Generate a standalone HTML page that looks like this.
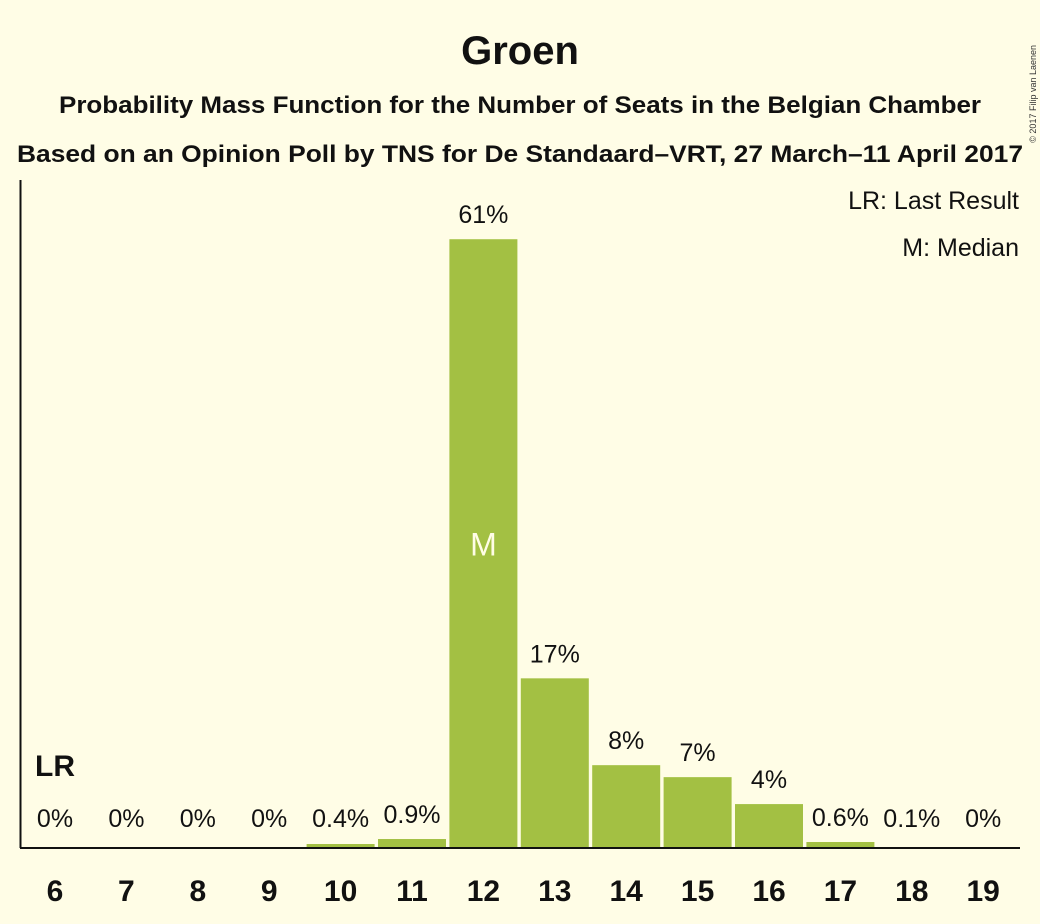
<!DOCTYPE html>
<html><head><meta charset="utf-8"><style>
html,body{margin:0;padding:0;background:#fffde6;}
svg{display:block;font-family:"Liberation Sans",sans-serif;}
</style></head><body>
<svg id="chart" width="1040" height="924" viewBox="0 0 1040 924">
<rect x="0" y="0" width="1040" height="924" fill="#fffde6"/>
<text x="520" y="64" text-anchor="middle" font-size="40" font-weight="bold" fill="#111">Groen</text>
<text x="520" y="113" text-anchor="middle" font-size="24" font-weight="bold" fill="#111" textLength="922" lengthAdjust="spacingAndGlyphs">Probability Mass Function for the Number of Seats in the Belgian Chamber</text>
<text x="520" y="162" text-anchor="middle" font-size="24" font-weight="bold" fill="#111" textLength="1006" lengthAdjust="spacingAndGlyphs">Based on an Opinion Poll by TNS for De Standaard–VRT, 27 March–11 April 2017</text>
<text x="1019" y="209" text-anchor="end" font-size="25" fill="#111">LR: Last Result</text>
<text x="1019" y="256" text-anchor="end" font-size="25" fill="#111">M: Median</text>
<text transform="translate(1036,45) rotate(-90)" text-anchor="end" font-size="9" fill="#333">© 2017 Filip van Laenen</text>
<g id="bars"></g>
<line x1="20.5" y1="180" x2="20.5" y2="848" stroke="#111" stroke-width="2"/>
<line x1="20" y1="848" x2="1020" y2="848" stroke="#111" stroke-width="2"/>
</svg>
<script>
const seats = [6,7,8,9,10,11,12,13,14,15,16,17,18,19];
const probs = [0,0,0,0,0.4,0.9,61,17,8.3,7.1,4.4,0.6,0.1,0];
const valueLabels = ["0%","0%","0%","0%","0.4%","0.9%","61%","17%","8%","7%","4%","0.6%","0.1%","0%"];
const lastResult = 6;
const median = 12;
const NS="http://www.w3.org/2000/svg";
const base=848, pxPerPct=9.98, x0=55, step=71.4, bw=68;
const xs=i=>x0+i*step;
const ys=v=>base-v*pxPerPct;
const g=document.getElementById('bars');
function mk(tag,attrs,txt){const e=document.createElementNS(NS,tag);for(const k in attrs)e.setAttribute(k,attrs[k]);if(txt!==undefined)e.textContent=txt;g.appendChild(e);return e;}
seats.forEach((s,i)=>{
  const cx=xs(i), top=ys(probs[i]);
  if(probs[i]>0){
    const r=mk('rect',{x:cx-bw/2,y:top,width:bw,height:base-top,fill:'#a3c043'});
    
    
  }
  const ly=Math.min(top,base-5)-16;
  const t=mk('text',{x:cx,y:ly,'text-anchor':'middle','font-size':25,fill:'#111'},valueLabels[i]);
  
  
  const xt=mk('text',{x:cx,y:901,'text-anchor':'middle','font-size':30,'font-weight':'bold',fill:'#111'},String(s));
  
  
  if(s===median){
    const m=mk('text',{x:cx,y:ys(probs[i]/2)+12,'text-anchor':'middle','font-size':32,fill:'#fffde6'},'M');
    
    
  }
  if(s===lastResult){
    const l=mk('text',{x:cx,y:776,'text-anchor':'middle','font-size':30,'font-weight':'bold',fill:'#111'},'LR');
    
    
  }
});
</script>
</body></html>
